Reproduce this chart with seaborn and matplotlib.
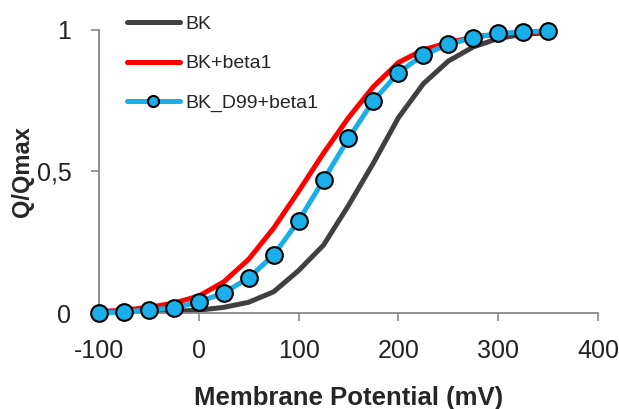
import numpy as np
import pandas as pd
import seaborn as sns
import matplotlib.pyplot as plt

# %% data
voltage = [-100, -75, -50, -25, 0, 25, 50, 75, 100, 125, 150, 175, 200,
           225, 250, 275, 300, 325, 350]
bk = [0.0, 0.002, 0.004, 0.006, 0.01, 0.02, 0.038, 0.075, 0.15, 0.24,
      0.38, 0.53, 0.69, 0.81, 0.89, 0.94, 0.97, 0.985, 0.99]
bk_beta1 = [0.005, 0.01, 0.02, 0.035, 0.06, 0.11, 0.19, 0.30, 0.43, 0.565,
            0.69, 0.80, 0.885, 0.93, 0.955, 0.975, 0.985, 0.99, 0.995]
bk_d99_beta1 = [0.0, 0.004, 0.011, 0.018, 0.039, 0.071, 0.124, 0.205, 0.326,
                0.47, 0.617, 0.75, 0.849, 0.912, 0.949, 0.973, 0.988, 0.993,
                0.997]
xticks = [-100, 0, 100, 200, 300, 400]
yticks = [0, 0.5, 1]
ytick_labels = ["0", "0,5", "1"]

df = pd.DataFrame({"voltage": voltage, "BK": bk, "BK+beta1": bk_beta1,
                   "BK_D99+beta1": bk_d99_beta1})

# %% plot
sns.set_theme(style="white")
plt.rcParams["font.family"] = ["Liberation Sans", "DejaVu Sans"]
plt.rcParams["axes.unicode_minus"] = False

fig = plt.figure(figsize=(6.19, 4.09), dpi=100)
ax = fig.add_axes([0.16, 0.2347, 0.806, 0.692])

sns.lineplot(data=df, x="voltage", y="BK", color="#404040", lw=3.6,
             label="BK", ax=ax)
sns.lineplot(data=df, x="voltage", y="BK+beta1", color="#ff0000", lw=3.6,
             label="BK+beta1", ax=ax)
sns.lineplot(data=df, x="voltage", y="BK_D99+beta1", color="#1aafe8", lw=3.6,
             marker="o", markersize=12, markerfacecolor="#1aafe8",
             markeredgecolor="black", markeredgewidth=1.5,
             label="BK_D99+beta1", ax=ax, clip_on=False, zorder=5)

ax.set_xlim(-100, 400)
ax.set_ylim(0, 1)
ax.set_xticks(xticks)
ax.set_yticks(yticks)
ax.set_yticklabels(ytick_labels)
ax.tick_params(axis="both", labelsize=18, colors="#222222", length=6,
               width=1.2, direction="out")
ax.tick_params(axis="both", color="#888888")
ax.tick_params(axis="x", pad=13)
ax.tick_params(axis="y", pad=14)
ax.xaxis.set_ticks_position("bottom")
ax.yaxis.set_ticks_position("left")
sns.despine(ax=ax)
for s in ["left", "bottom"]:
    ax.spines[s].set_color("#888888")
    ax.spines[s].set_linewidth(1.3)

ax.set_xlabel("Membrane Potential (mV)", fontsize=18.5, fontweight="bold")
ax.xaxis.set_label_coords(0.5, -0.258)
ax.set_ylabel("Q/Qmax", fontsize=17, fontweight="bold")
ax.yaxis.set_label_coords(-0.13, 0.5)

leg = ax.legend(loc="upper left", bbox_to_anchor=(0.021, 1.114), frameon=False,
                fontsize=14, handlelength=2.7, handletextpad=0.3,
                labelspacing=1.13)
leg.legend_handles[2].set_markersize(8)

fig.savefig("out.png", dpi=100)
